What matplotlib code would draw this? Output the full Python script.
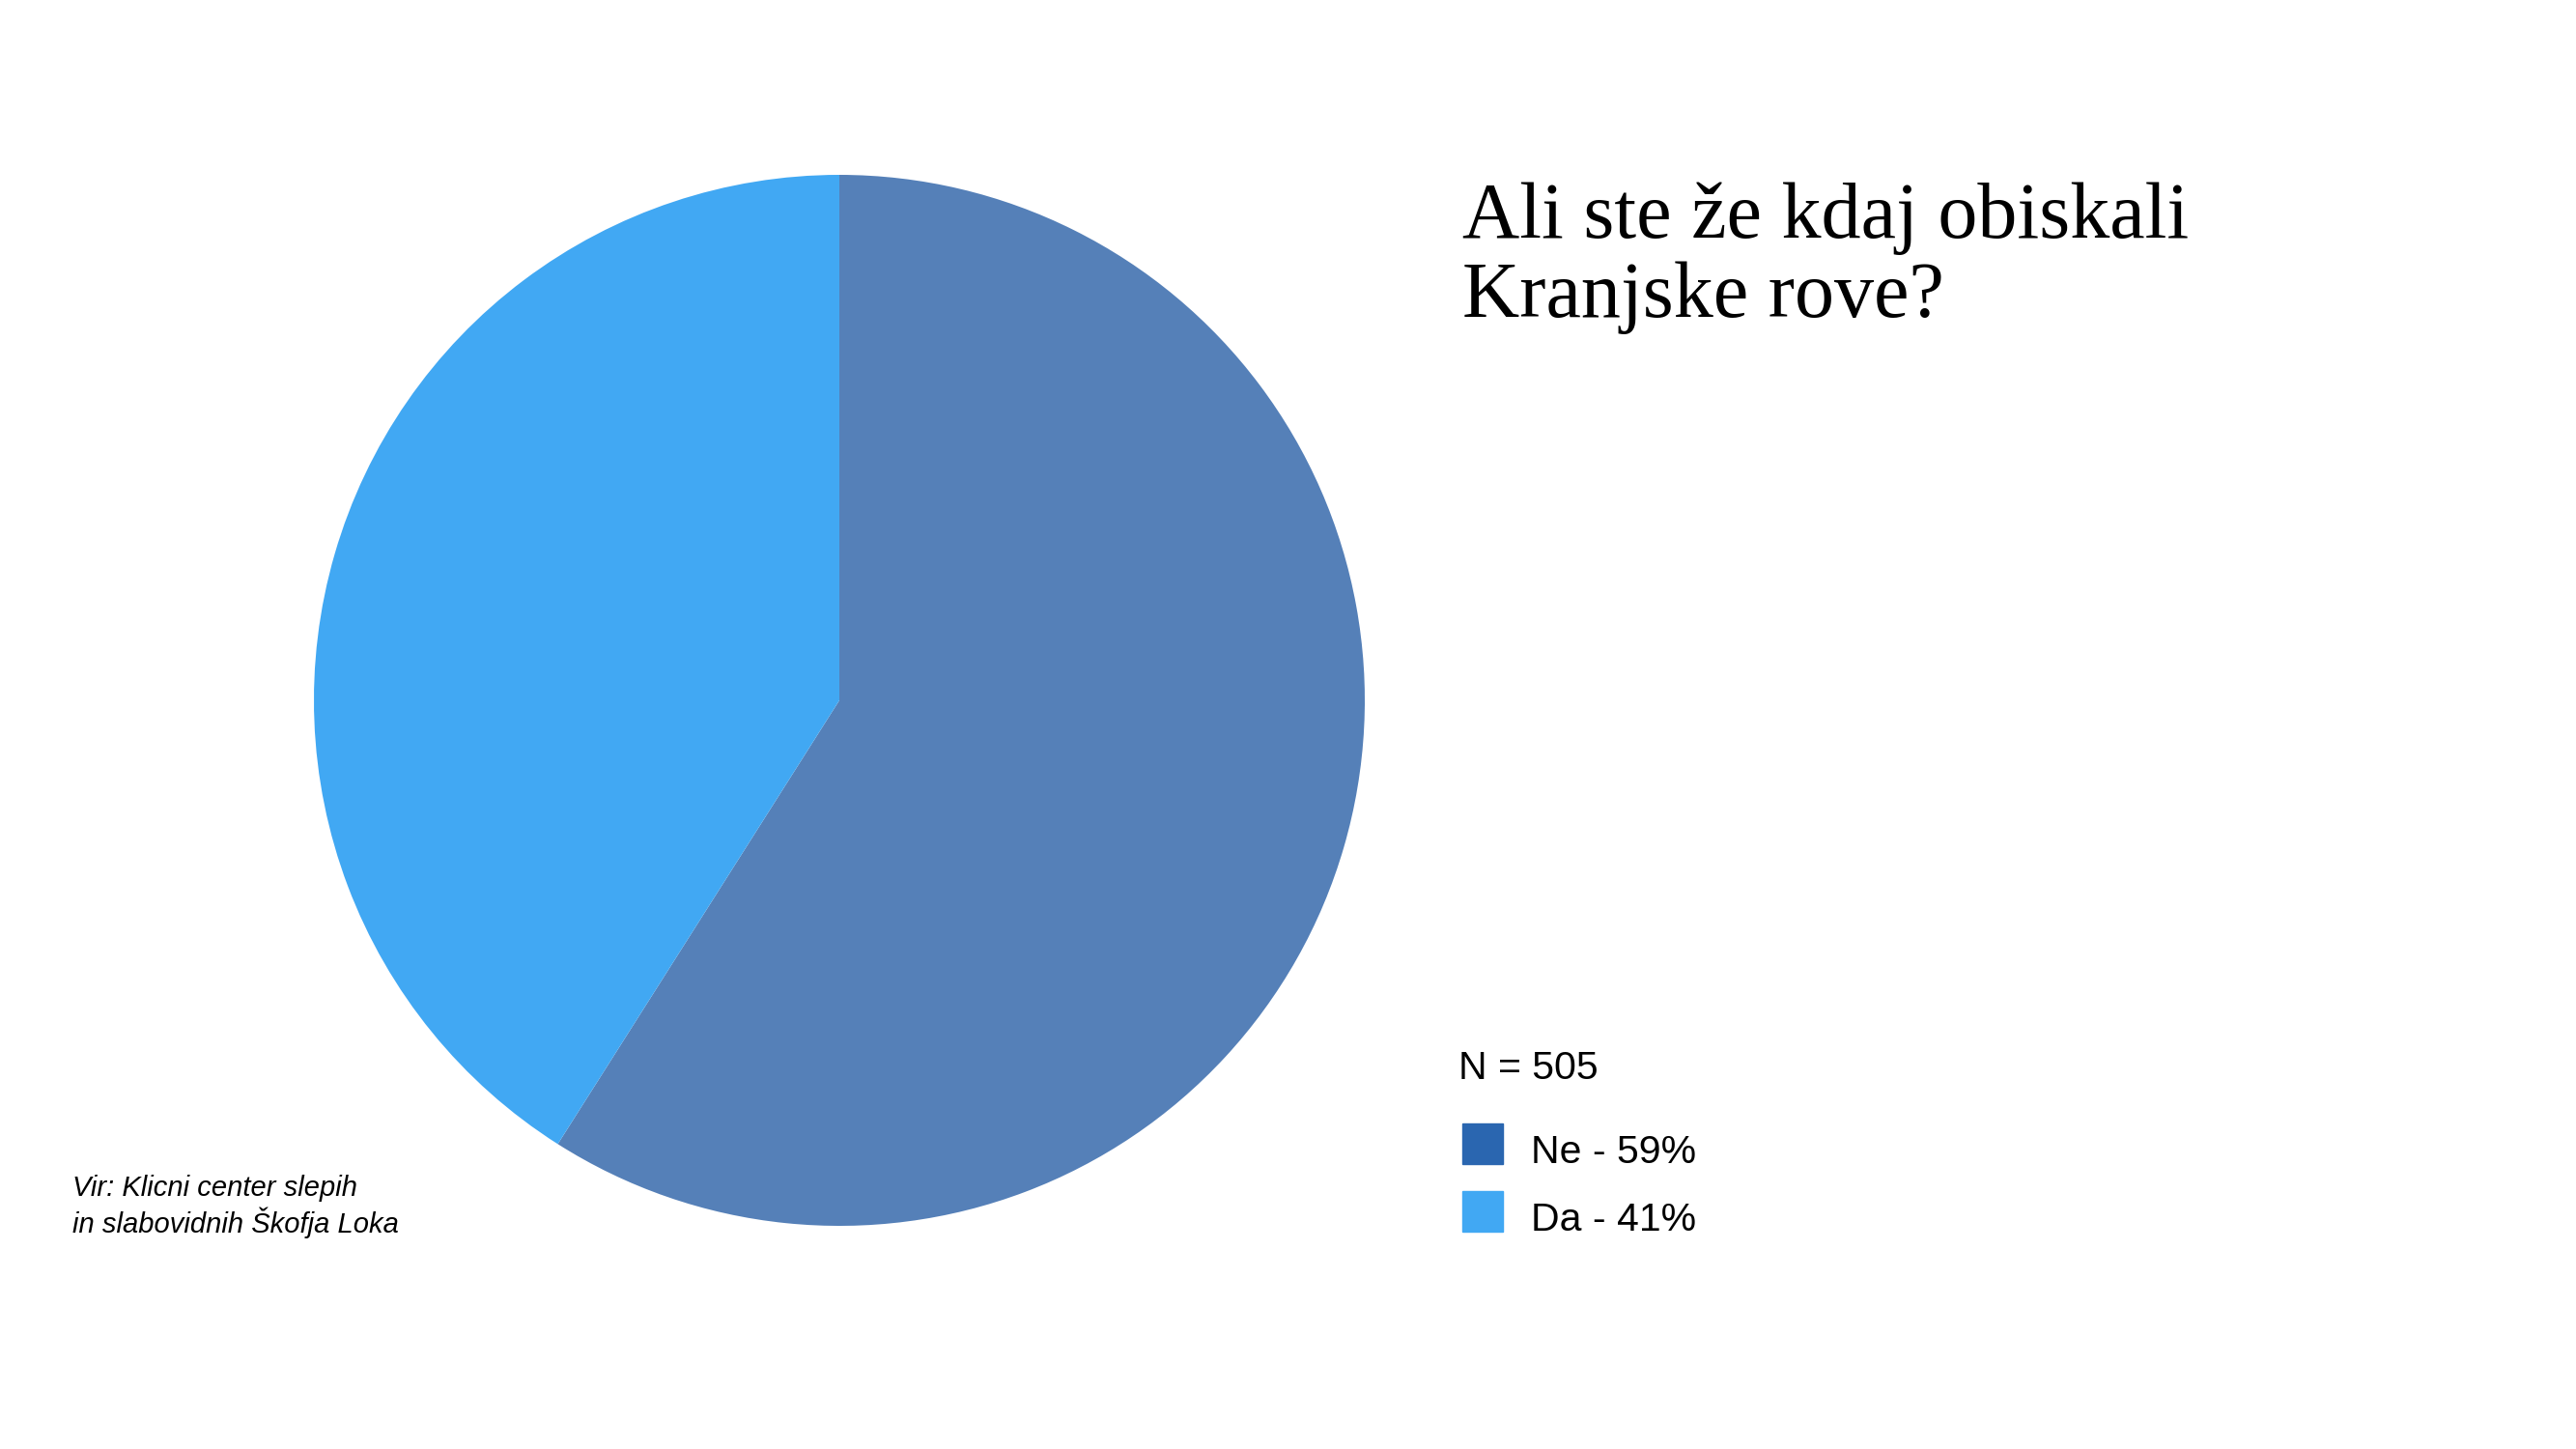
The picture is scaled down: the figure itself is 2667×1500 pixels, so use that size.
import matplotlib.pyplot as plt
from matplotlib.patches import Rectangle

# podatki
labels = ['Ne', 'Da']
shares = [59, 41]
slice_colors = ['#5580B8', '#41A8F3']
legend_colors = ['#2A66B0', '#41A8F3']
n_total = 505
title = 'Ali ste že kdaj obiskali\nKranjske rove?'
source = 'Vir: Klicni center slepih\nin slabovidnih Škofja Loka'

W, H = 2667, 1500
fig = plt.figure(figsize=(W / 100, H / 100), dpi=100)
fig.patch.set_facecolor('white')


def fx(x):
    return x / W


def fy(y):
    return 1 - y / H


# pita
cx, cy, r = 869, 725, 544
ax = fig.add_axes([fx(cx - r), fy(cy + r), 2 * r / W, 2 * r / H])
ax.pie(shares, colors=slice_colors, startangle=90, counterclock=False,
       radius=1, wedgeprops={'linewidth': 0})
ax.set_xlim(-1, 1)
ax.set_ylim(-1, 1)
ax.set_aspect('equal')
ax.axis('off')

# naslov (baseline = zadnja vrstica)
fig.text(fx(1514), fy(328), title, family='Liberation Serif', fontsize=59,
         va='baseline', ha='left', linespacing=1.12)

# legenda
fig.text(fx(1510), fy(1117), 'N = %d' % n_total, family='Liberation Sans',
         fontsize=29.5, va='baseline')
ys = [1163, 1233]
for lab, val, col, y in zip(labels, shares, legend_colors, ys):
    fig.patches.append(Rectangle((fx(1514), fy(y + 42)), 42 / W, 42 / H,
                                 transform=fig.transFigure, color=col))
    fig.text(fx(1585), fy(y + 41), '%s - %d%%' % (lab, val),
             family='Liberation Sans', fontsize=29.5, va='baseline')

# vir
fig.text(fx(75), fy(1276), source, family='Liberation Sans', style='italic',
         fontsize=21, va='baseline', linespacing=1.22)

fig.savefig('out.png', dpi=100)
